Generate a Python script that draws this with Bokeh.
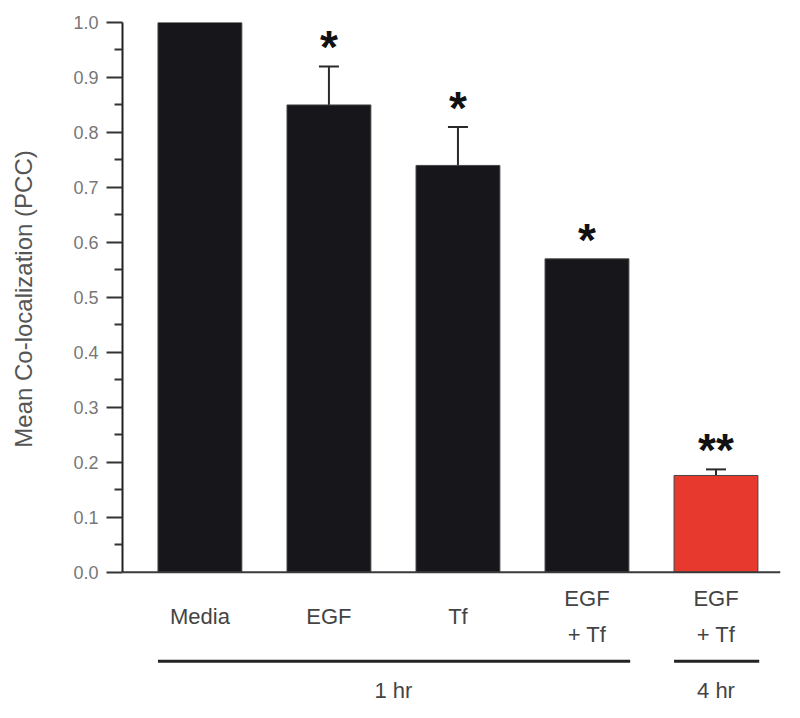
from bokeh.plotting import figure
from bokeh.layouts import column
from bokeh.models import (ColumnDataSource, Range1d, FixedTicker, PrintfTickFormatter,
                          Whisker, TeeHead)
from bokeh.core.properties import value
from bokeh.embed import file_html
from bokeh.resources import INLINE

# ---- data ----
categories = ["Media", "EGF", "Tf", "EGF\n+ Tf", "EGF\n+ Tf"]
means = [1.0, 0.85, 0.74, 0.57, 0.176]
errors = [0.0, 0.07, 0.07, 0.0, 0.011]
stars = ["", "*", "*", "*", "**"]
bar_colors = ["#17161b", "#17161b", "#17161b", "#17161b", "#e8392f"]
groups = ["1 hr", "4 hr"]
group_first = [0, 4]
group_last = [3, 4]
yticks = [0.0, 0.1, 0.2, 0.3, 0.4, 0.5, 0.6, 0.7, 0.8, 0.9, 1.0]
yminor = [0.05, 0.15, 0.25, 0.35, 0.45, 0.55, 0.65, 0.75, 0.85, 0.95]
ylabel = "Mean Co-localization (PCC)"

FONT = "Liberation Sans"
xs = list(range(len(categories)))
BAR_W = 0.65
PX_PER_UNIT = 550
xr = Range1d(-0.6, 4.5)

# ---------------- main plot ----------------
p = figure(frame_width=658, frame_height=553, output_backend="svg", toolbar_location=None,
           x_range=xr, y_range=Range1d(-0.006, 1.0),
           min_border_left=122, min_border_top=22, min_border_bottom=12, min_border_right=10)
p.xgrid.visible = False
p.ygrid.visible = False
p.outline_line_color = None
p.xaxis.visible = False

src = ColumnDataSource(dict(x=xs, top=means, color=bar_colors,
                            upper=[m + e for m, e in zip(means, errors)],
                            star=stars, cat=categories))

p.vbar(x="x", top="top", bottom=0, width=BAR_W, fill_color="color", line_color="#444444",
       line_width=1, source=src)

# baseline
p.segment(x0=[xr.start], x1=[xr.end], y0=[0], y1=[0], line_color="#3a3a3a", line_width=2)

# error bars
err_idx = [i for i, e in enumerate(errors) if e > 0]
esrc = ColumnDataSource(dict(x=[xs[i] for i in err_idx],
                             upper=[means[i] + errors[i] for i in err_idx],
                             lower=[means[i] - errors[i] for i in err_idx]))
w = Whisker(source=esrc, base="x", upper="upper", lower="lower", dimension="height",
            line_color="#2a2a2a", line_width=2,
            upper_head=TeeHead(size=20, line_color="#2a2a2a", line_width=2), lower_head=None)
p.add_layout(w)

# significance stars
p.text(x="x", y="upper", text="star", source=src, text_font=value(FONT),
       text_font_size="46px", text_font_style="bold", text_align="center",
       text_baseline="alphabetic", y_offset=-19, text_color="#111111")

# y axis
ya = p.yaxis[0]
ya.bounds = (0, 1)
ya.ticker = FixedTicker(ticks=yticks, minor_ticks=yminor)
ya.formatter = PrintfTickFormatter(format="%.1f")
ya.axis_line_color = "#222222"
ya.axis_line_width = 2
ya.major_tick_line_color = "#333333"
ya.major_tick_line_width = 2
ya.major_tick_out = 16
ya.major_tick_in = 0
ya.minor_tick_line_color = "#333333"
ya.minor_tick_line_width = 2
ya.minor_tick_out = 8
ya.minor_tick_in = 0
ya.major_label_text_font = FONT
ya.major_label_text_font_size = "18px"
ya.major_label_text_color = "#777777"
ya.major_label_standoff = 8
ya.axis_label = ylabel
ya.axis_label_text_font = FONT
ya.axis_label_text_font_size = "24px"
ya.axis_label_text_font_style = "normal"
ya.axis_label_text_color = "#555555"
ya.axis_label_standoff = 33

# ---------------- category / group labels below ----------------
top_b = -0.006 - 12 / PX_PER_UNIT
bot_b = -0.25
q = figure(frame_width=658, frame_height=int(round((top_b - bot_b) * PX_PER_UNIT)),
           output_backend="svg", toolbar_location=None,
           x_range=xr, y_range=Range1d(bot_b, top_b),
           x_axis_location=None, y_axis_location=None,
           min_border_left=122, min_border_top=0, min_border_bottom=0, min_border_right=10)
q.xgrid.visible = False
q.ygrid.visible = False
q.outline_line_color = None

lsrc = ColumnDataSource(dict(x=xs, cat=categories))
q.text(x="x", y=-0.08, text="cat", source=lsrc, text_font=value(FONT),
       text_font_size="22px", text_align="center", text_baseline="middle",
       text_color="#444444", text_line_height=1.45)

gx0 = [f - BAR_W / 2 + 0.0 for f in group_first]
gx1 = [l + BAR_W / 2 + 0.01 for l in group_last]
q.segment(x0=gx0, x1=gx1, y0=-0.162, y1=-0.162, line_color="#222222", line_width=3)
q.text(x=[(f + l) / 2 for f, l in zip(group_first, group_last)], y=-0.216, text=groups,
       text_font=value(FONT), text_font_size="22px", text_align="center",
       text_baseline="middle", text_color="#444444")

layout = column(p, q, spacing=0)
open("out.html", "w").write(file_html(layout, INLINE))
